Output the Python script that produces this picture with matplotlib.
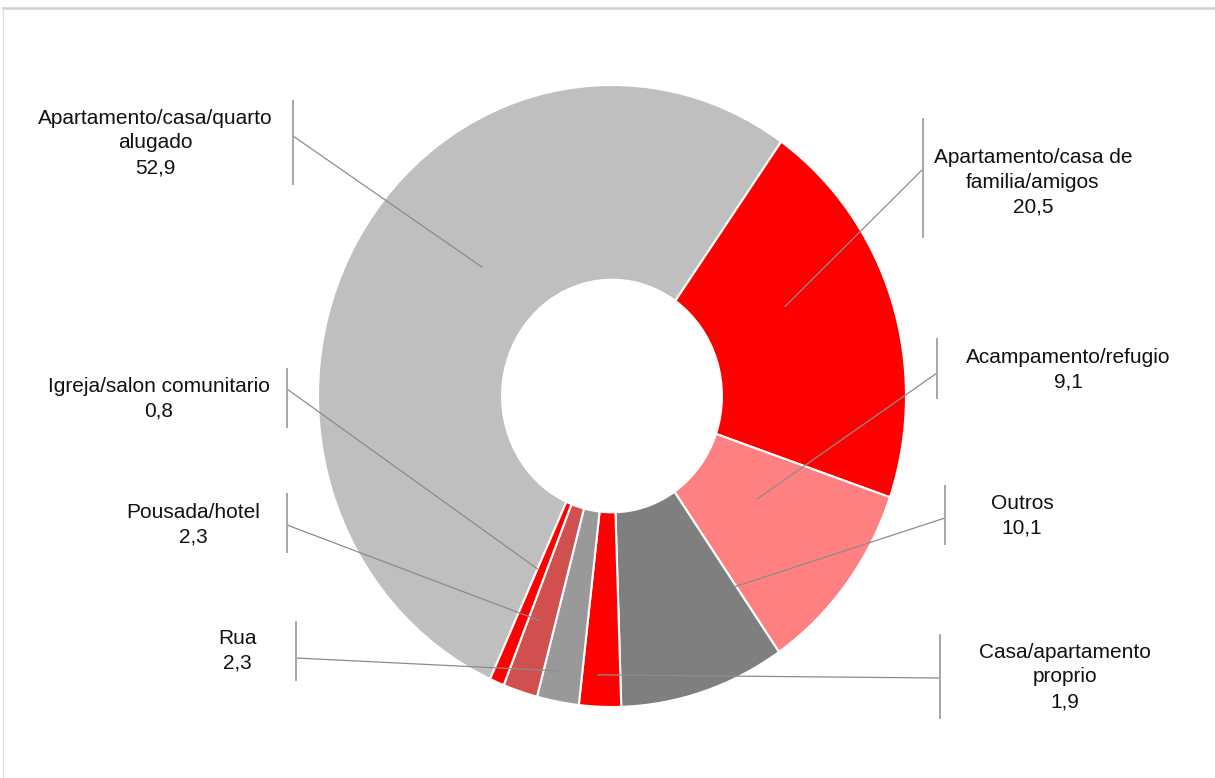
import matplotlib.pyplot as plt
from matplotlib.lines import Line2D
import numpy as np

# fatias na ordem do grafico (sentido horario, a partir do cinza claro)
categorias = ['Apartamento/casa/quarto\nalugado',
              'Apartamento/casa de\nfamilia/amigos',
              'Acampamento/refugio',
              'Outros',
              'Casa/apartamento\nproprio',
              'Rua',
              'Pousada/hotel',
              'Igreja/salon comunitario']
# numero escrito em cada rotulo
rotulo_valor = [52.9, 20.5, 9.1, 10.1, 1.9, 2.3, 2.3, 0.8]
# tamanho de cada fatia como aparece desenhada
fatia_valor = [52.9, 20.5, 10.1, 9.1, 2.3, 2.3, 1.9, 0.8]
cores = ['#bfbfbf', '#ff0000', '#ff8080', '#7f7f7f',
         '#ff0000', '#999999', '#d24f4f', '#ff0000']

W, H = 1215, 778
CX, CY, RX, RY = 612, 396, 294, 311   # centro e raios da rosca (px)

# layout dos rotulos (px na imagem)
texto_xy = [(155, 143), (1033, 182), (1068, 370), (1022, 516),
            (1065, 677), (237, 651), (193, 525), (159, 399)]
barra_x = [293, 923, 937, 945, 940, 296, 287, 287]
barra_y = [(101, 184), (119, 237), (339, 398), (486, 544),
           (635, 718), (622, 680), (494, 552), (369, 427)]
juncao_y = [136, 169, 373, 518, 678, 658, 525, 389]
# (fracao angular dentro da fatia, raio) do ponto onde a linha termina
ancora = [(0.57, 0.605), (0.39, 0.655), (0.41, 0.594), (0.01, 0.742),
          (0.6, 0.898), (0.64, 0.903), (0.58, 0.763), (1.0, 0.611)]


def fig_xy(x, y):
    return x / W, 1 - y / H


fig = plt.figure(figsize=(W / 100, H / 100), dpi=100)
ax = fig.add_axes([0, 0, 1, 1])

wedges, _ = ax.pie(fatia_valor, colors=cores, startangle=245.5,
                   counterclock=False, radius=1,
                   wedgeprops=dict(width=0.626, edgecolor='white', linewidth=1.5))
ax.set_aspect('auto')
ax.set_xlim(-CX / RX, (W - CX) / RX)
ax.set_ylim(-(H - CY) / RY, CY / RY)
ax.axis('off')

for i, w in enumerate(wedges):
    f, r = ancora[i]
    ang = np.radians(w.theta2 - f * (w.theta2 - w.theta1))
    ponto = (r * np.cos(ang), r * np.sin(ang))

    tx, ty = fig_xy(*texto_xy[i])
    txt = categorias[i] + '\n' + f'{rotulo_valor[i]:.1f}'.replace('.', ',')
    fig.text(tx, ty, txt, ha='center', va='center', fontsize=15,
             family=['Liberation Sans', 'DejaVu Sans'], linespacing=1.38, color='#111111')

    bx = barra_x[i] / W
    y0, y1 = barra_y[i]
    fig.add_artist(Line2D([bx, bx], [1 - y0 / H, 1 - y1 / H], transform=fig.transFigure,
                          color='#a6a6a6', lw=1.4))
    ax.annotate('', xy=ponto, xycoords='data',
                xytext=fig_xy(barra_x[i], juncao_y[i]), textcoords='figure fraction',
                arrowprops=dict(arrowstyle='-', color='#8c8c8c', lw=0.9,
                                shrinkA=0, shrinkB=0))

# moldura
fig.add_artist(Line2D([3 / W, 1], [1 - 8 / H, 1 - 8 / H], transform=fig.transFigure,
                      color='#d0d0d0', lw=1.8))
fig.add_artist(Line2D([3 / W, 3 / W], [1 - 8 / H, 0], transform=fig.transFigure,
                      color='#dddddd', lw=0.8))

fig.savefig('out.png', dpi=100)
